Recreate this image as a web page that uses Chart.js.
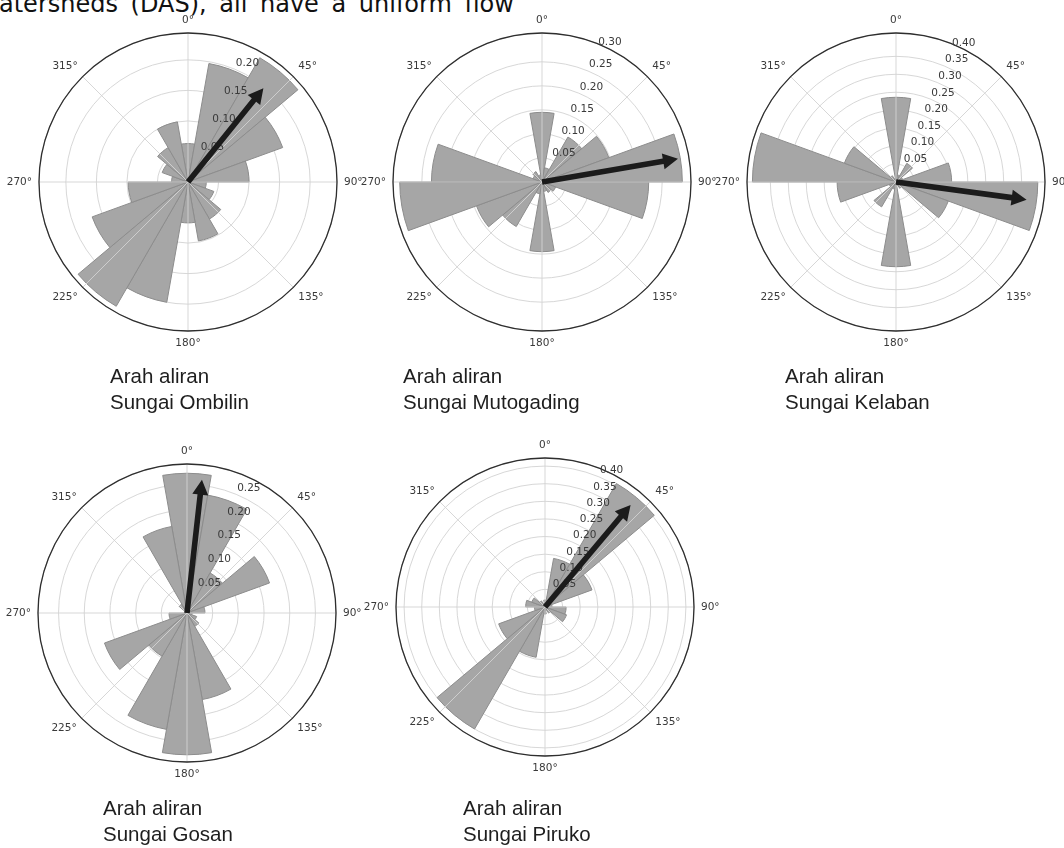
<!DOCTYPE html>
<html>
<head>
<meta charset="utf-8">
<script src="https://cdn.jsdelivr.net/npm/chart.js@4.4.1/dist/chart.umd.min.js"></script>
<style>
  html, body { margin: 0; padding: 0; background: #fff; }
  body { width: 1064px; height: 848px; position: relative; overflow: hidden; }
  canvas.rose { position: absolute; }
  .caption {
    position: absolute;
    font-family: "Liberation Sans", Arial, sans-serif;
    font-size: 20.5px;
    line-height: 26px;
    color: #1e1e1e;
    white-space: nowrap;
  }
  #topline {
    position: absolute; left: -1px; top: -8px;
    font-family: "DejaVu Sans", Verdana, sans-serif;
    font-size: 24px; line-height: 24px;
    word-spacing: 5px; color: #111;
    white-space: nowrap;
  }
</style>
</head>
<body>
<div id="topline">atersheds (DAS), all have a uniform flow</div>

<script>
// Bin centres in degrees clockwise from north, each bin is 20 degrees wide
const binCentres = [0, 20, 40, 60, 80, 100, 120, 140, 160, 180, 200, 220, 240, 260, 280, 300, 320, 340];

// River names (used for the captions)
const rivers = ['Ombilin', 'Mutogading', 'Kelaban', 'Gosan', 'Piruko'];

// Relative frequency of flow direction per bin, one list per river
const ombilinValues    = [0.063, 0.197, 0.235, 0.165, 0.100, 0.030, 0.045, 0.070, 0.098, 0.067, 0.200, 0.235, 0.167, 0.098, 0.027, 0.045, 0.065, 0.100];
const mutogadingValues = [0.145, 0.030, 0.108, 0.148, 0.292, 0.222, 0.030, 0.025, 0.020, 0.145, 0.025, 0.107, 0.145, 0.296, 0.230, 0.020, 0.025, 0.015];
const kelabanValues    = [0.236, 0.020, 0.060, 0.020, 0.155, 0.395, 0.155, 0.020, 0.010, 0.236, 0.020, 0.080, 0.020, 0.164, 0.400, 0.153, 0.020, 0.010];
const gosanValues      = [0.272, 0.233, 0.090, 0.171, 0.035, 0.010, 0.020, 0.030, 0.171, 0.276, 0.230, 0.097, 0.171, 0.035, 0.000, 0.000, 0.020, 0.171];
const pirukoValues     = [0.020, 0.140, 0.405, 0.142, 0.020, 0.060, 0.065, 0.020, 0.010, 0.020, 0.145, 0.400, 0.140, 0.030, 0.055, 0.040, 0.020, 0.010];

const allValues = [ombilinValues, mutogadingValues, kelabanValues, gosanValues, pirukoValues];

// Outer limit of the radial axis for each diagram
const rMax = [0.244, 0.31, 0.415, 0.29, 0.423];

// Radial tick labels for each diagram
const ombilinTicks    = ['0.05', '0.10', '0.15', '0.20'];
const mutogadingTicks = ['0.05', '0.10', '0.15', '0.20', '0.25', '0.30'];
const kelabanTicks    = ['0.05', '0.10', '0.15', '0.20', '0.25', '0.30', '0.35', '0.40'];
const gosanTicks      = ['0.05', '0.10', '0.15', '0.20', '0.25'];
const pirukoTicks     = ['0.05', '0.10', '0.15', '0.20', '0.25', '0.30', '0.35', '0.40'];
const allTicks = [ombilinTicks, mutogadingTicks, kelabanTicks, gosanTicks, pirukoTicks];

// Mean flow direction (degrees) and resultant length of the arrow
const arrowDirection = [38.8, 80.3, 97.7, 6.4, 40.0];
const arrowLength    = [0.197, 0.287, 0.367, 0.261, 0.378];

// Angle labels round the diagram
const thetaTicks = [0, 45, 90, 135, 180, 225, 270, 315];

// ---- layout (not data) ----
const CANVAS = 380;
const PAD = 41;          // leaves a 298px chart area, radius 149
const centres = [[188, 182], [542, 182], [896, 182], [187, 613], [545, 607]];
const captionPos = [[110, 363], [403, 363], [785, 363], [103, 795], [463, 795]];

const BAR_COLOR = '#a6a6a6';
const TEXT_COLOR = '#3a3a3a';

// Draws the angle lines, outer ring, labels and the arrow on top of the bars
const rosePlugin = {
    id: 'rose',
    afterDraw(chart, args, opts) {
        const s = chart.scales.r;
        const ctx = chart.ctx;
        const cx = s.xCenter, cy = s.yCenter, R = s.drawingArea;
        const i = opts.index;

        ctx.save();

        // angle lines every 45 degrees
        ctx.strokeStyle = '#d2d2d2';
        ctx.lineWidth = 0.9;
        thetaTicks.forEach(a => {
            const t = a * Math.PI / 180;
            ctx.beginPath();
            ctx.moveTo(cx, cy);
            ctx.lineTo(cx + R * Math.sin(t), cy - R * Math.cos(t));
            ctx.stroke();
        });

        // outer spine
        ctx.strokeStyle = '#2e2e2e';
        ctx.lineWidth = 1.3;
        ctx.beginPath();
        ctx.arc(cx, cy, R, 0, Math.PI * 2);
        ctx.stroke();

        // angle labels
        ctx.fillStyle = TEXT_COLOR;
        ctx.font = '10.5px "DejaVu Sans"';
        thetaTicks.forEach(a => {
            const t = a * Math.PI / 180;
            const dx = Math.sin(t), dy = -Math.cos(t);
            const pad = 7;
            const x = cx + (R + pad) * dx, y = cy + (R + pad) * dy;
            ctx.textAlign = Math.abs(dx) < 0.1 ? 'center' : (dx > 0 ? 'left' : 'right');
            ctx.textBaseline = Math.abs(dy) < 0.1 ? 'middle' : (dy < 0 ? 'bottom' : 'top');
            ctx.fillText(a + '°', x, y);
        });

        // radial labels along 22.5 degrees
        const rl = 22.5 * Math.PI / 180;
        ctx.textAlign = 'left';
        ctx.textBaseline = 'bottom';
        allTicks[i].forEach(lbl => {
            const d = s.getDistanceFromCenterForValue(parseFloat(lbl));
            ctx.fillText(lbl, cx + d * Math.sin(rl) + 1, cy - d * Math.cos(rl) - 1);
        });

        // resultant arrow
        const a = arrowDirection[i] * Math.PI / 180;
        const len = s.getDistanceFromCenterForValue(arrowLength[i]);
        const ux = Math.sin(a), uy = -Math.cos(a);
        const px = -uy, py = ux;
        const hl = 15, hw = 8, sw = 2.8;
        const bx = cx + ux * (len - hl), by = cy + uy * (len - hl);
        ctx.fillStyle = '#1b1b1b';
        ctx.beginPath();
        ctx.moveTo(cx + px * sw, cy + py * sw);
        ctx.lineTo(bx + px * sw, by + py * sw);
        ctx.lineTo(bx + px * hw, by + py * hw);
        ctx.lineTo(cx + ux * len, cy + uy * len);
        ctx.lineTo(bx - px * hw, by - py * hw);
        ctx.lineTo(bx - px * sw, by - py * sw);
        ctx.lineTo(cx - px * sw, cy - py * sw);
        ctx.closePath();
        ctx.fill();

        ctx.restore();
    }
};

rivers.forEach((name, i) => {
    // canvas for the rose diagram
    const canvas = document.createElement('canvas');
    canvas.className = 'rose';
    canvas.width = CANVAS;
    canvas.height = CANVAS;
    canvas.style.left = (centres[i][0] - CANVAS / 2) + 'px';
    canvas.style.top = (centres[i][1] - CANVAS / 2) + 'px';
    document.body.appendChild(canvas);

    new Chart(canvas, {
        type: 'polarArea',
        data: {
            labels: binCentres.map(b => b + '°'),
            datasets: [{
                data: allValues[i],
                backgroundColor: BAR_COLOR,
                borderColor: '#8c8c8c',
                borderWidth: 1
            }]
        },
        options: {
            responsive: false,
            animation: false,
            devicePixelRatio: 1,
            layout: { padding: PAD },
            plugins: {
                legend: { display: false },
                tooltip: { enabled: false },
                rose: { index: i }
            },
            scales: {
                r: {
                    min: 0,
                    max: rMax[i],
                    startAngle: -10,   // bins are centred on multiples of 20 degrees
                    z: 1,              // grid rings over the bars, like matplotlib
                    ticks: { display: false, stepSize: 0.05 },
                    grid: { color: '#d2d2d2', lineWidth: 0.9 },
                    angleLines: { display: false },
                    pointLabels: { display: false }
                }
            }
        },
        plugins: [rosePlugin]
    });

    // caption under each diagram
    const cap = document.createElement('div');
    cap.className = 'caption';
    cap.style.left = captionPos[i][0] + 'px';
    cap.style.top = captionPos[i][1] + 'px';
    cap.innerHTML = 'Arah aliran<br>Sungai ' + name;
    document.body.appendChild(cap);
});
</script>
</body>
</html>
